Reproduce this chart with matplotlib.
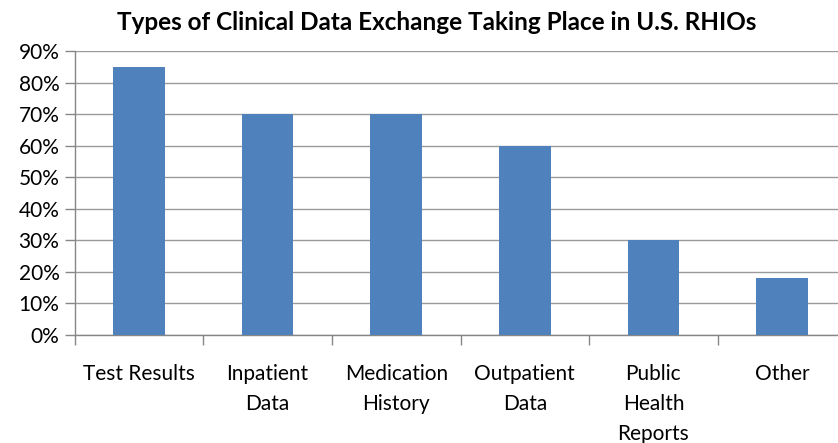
import matplotlib
matplotlib.use("Agg")
import matplotlib.pyplot as plt
from matplotlib.ticker import FixedLocator, PercentFormatter

plt.rcParams["font.family"] = ["Lato", "DejaVu Sans"]

categories = ["Test Results", "Inpatient\nData", "Medication\nHistory",
              "Outpatient\nData", "Public\nHealth\nReports", "Other"]
values = [85, 70, 70, 60, 30, 18]
yticks = [0, 10, 20, 30, 40, 50, 60, 70, 80, 90]

fig = plt.figure(figsize=(8.38, 4.43), dpi=100)
ax = fig.add_axes([74.7 / 838, 1 - 335 / 443, 771.6 / 838, 284 / 443])

x = list(range(len(categories)))
ax.bar(x, values, width=0.40, color="#4F81BD", zorder=3)

ax.set_xlim(-0.5, len(categories) - 0.5)
ax.set_ylim(0, 90)
ax.set_yticks(yticks)
ax.yaxis.set_major_formatter(PercentFormatter(decimals=0))
ax.grid(axis="y", color="#9a9a9a", linewidth=1, zorder=0)

ax.xaxis.set_major_locator(FixedLocator([i - 0.5 for i in range(len(categories) + 1)]))
ax.xaxis.set_minor_locator(FixedLocator(x))
ax.set_xticklabels([])
ax.set_xticklabels(categories, minor=True, va="top", linespacing=1.62)
ax.tick_params(axis="x", which="major", length=7, color="#868686", width=1)
ax.tick_params(axis="x", which="minor", length=0, pad=21, labelsize=15)
ax.tick_params(axis="y", length=7, color="#868686", width=1, labelsize=15, pad=4)

for s in ["top", "right"]:
    ax.spines[s].set_visible(False)
for s in ["left", "bottom"]:
    ax.spines[s].set_color("#868686")
    ax.spines[s].set_linewidth(1)

fig.text(437 / 838, 1 - 22 / 443, "Types of Clinical Data Exchange Taking Place in U.S. RHIOs",
         ha="center", va="center", fontsize=17.5, fontweight="bold")

fig.savefig("out.png", dpi=100)
